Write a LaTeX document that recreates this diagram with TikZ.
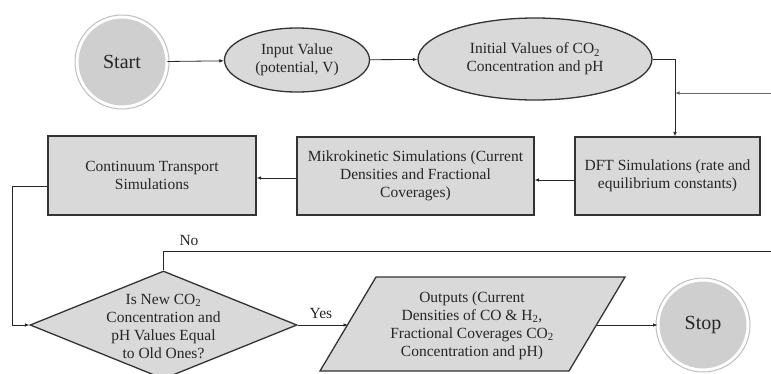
\documentclass[tikz,border=0pt]{standalone}
\usepackage{fontspec}
\setmainfont{Liberation Serif}
\usetikzlibrary{shapes.geometric,arrows.meta,calc}
\begin{document}
\begin{tikzpicture}[x=1pt,y=-1pt,
  every node/.style={font=\fontsize{15.5}{18}\selectfont, text=black!85},
  boxfill/.style={fill=gray!30, draw=black!80, line width=1.3pt},
  procbox/.style={boxfill, rectangle, align=center, inner sep=0pt},
  ell/.style={boxfill, ellipse, align=center, inner sep=0pt},
  term/.style={circle, fill=gray!38, draw=white, line width=2pt, inner sep=0pt, minimum size=89pt, font=\fontsize{20}{24}\selectfont},
  arr/.style={draw=black!85, line width=0.8pt, -{Latex[length=4.5pt,width=3.6pt]}},
  ln/.style={draw=black!85, line width=0.8pt},
  lbl/.style={font=\fontsize{15.5}{18}\selectfont}
]
\useasboundingbox (0,0) rectangle (771,373);
\fill[white] (0,0) rectangle (771,373);

% terminals
\node[term] (start) at (122,62) {Start};
\draw[gray!50, line width=1pt] (start.center) circle (47pt);
\node[term] (stop) at (703,325) {Stop};
\draw[gray!50, line width=1pt] (stop.center) circle (47pt);

% ellipses
\node[ell, minimum width=145pt, minimum height=64pt] (input) at (297,60) {Input Value\\(potential, V)};
\node[ell, minimum width=234pt, minimum height=82pt] (init) at (535,59) {Initial Values of CO\textsubscript{2}\\Concentration and pH};

% process boxes
\node[procbox, minimum width=185pt, minimum height=78pt] (dft) at (667.5,176) {DFT Simulations (rate and\\equilibrium constants)};
\node[procbox, minimum width=237pt, minimum height=78pt] (mikro) at (415.5,176) {Mikrokinetic Simulations (Current\\Densities and Fractional\\Coverages)};
\node[procbox, minimum width=208pt, minimum height=79pt] (cont) at (152,175.5) {Continuum Transport\\Simulations};

% decision
\node[diamond, boxfill, minimum width=267pt, minimum height=108pt, inner sep=0pt, aspect=2.47] (dia) at (163.5,325) {};
\node[align=center] (diatext) at (163.5,326) {Is New CO\textsubscript{2}\\Concentration and\\pH Values Equal\\to Old Ones?};

% output parallelogram
\coordinate (pBL) at (320,371);
\coordinate (pTL) at (376,277);
\coordinate (pTR) at (625,277);
\coordinate (pBR) at (569,371);
\draw[boxfill] (pBL) -- (pTL) -- (pTR) -- (pBR) -- cycle;
\coordinate (outL) at (348,325);
\coordinate (outR) at (597,325);
\node[align=center] (outtext) at (472,326) {Outputs (Current\\Densities of CO \& H\textsubscript{2},\\Fractional Coverages CO\textsubscript{2}\\Concentration and pH)};

% connectors
\draw[arr] (start) -- (input);
\draw[arr] (input) -- (init);
\draw[arr] (init.east) -| ([xshift=7.5pt]dft.north);
\coordinate (fbStart) at (771,93);
\coordinate (fbEnd) at (675,93);
\draw[arr, draw=black!60] (fbStart) -- (fbEnd);
\draw[arr] (dft.west |- 0,180) -- (mikro.east |- 0,180);
\draw[arr] (mikro.west |- 0,178) -- (cont.east |- 0,178);
\coordinate (rail) at (12,186);
\draw[arr] (rail -| cont.west) -- (rail) |- (dia.west);
\coordinate (noTurn) at (163.5,251);
\coordinate (noEnd) at (771,251);
\draw[ln] (dia.north) -- (noTurn) -- (noEnd);
\node[lbl] (no) at (189,240) {No};
\draw[arr] (dia.east) -- (outL);
\node[lbl] (yes) at (321,313) {Yes};
\draw[arr] (outR) -- (stop);
\end{tikzpicture}
\end{document}
